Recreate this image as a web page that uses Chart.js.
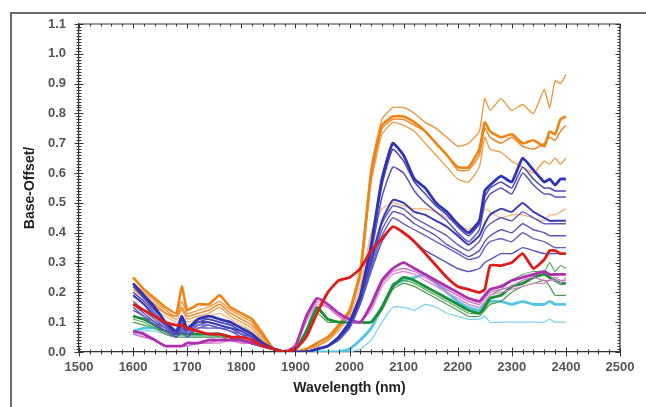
<!DOCTYPE html>
<html>
<head>
<meta charset="utf-8">
<script src="https://cdn.jsdelivr.net/npm/chart.js@4.4.0/dist/chart.umd.min.js"></script>
<style>
  html, body { margin: 0; padding: 0; background: #fff; }
  #wrap { width: 646px; height: 407px; }
</style>
</head>
<body>
<div id="wrap"><canvas id="myChart" width="646" height="407"></canvas></div>
<script>
// wavelengths (nm) shared by every spectrum
const wavelengths = [1600, 1620, 1640, 1660, 1680, 1690, 1700, 1720, 1740, 1760, 1780, 1800, 1820, 1840, 1860,
  1880, 1900, 1920, 1940, 1960, 1980, 2000, 2020, 2040, 2060, 2080, 2100, 2120, 2140, 2160, 2180, 2200,
  2220, 2240, 2250, 2260, 2280, 2300, 2320, 2340, 2360, 2370, 2380, 2390, 2400];

const xTicks = [1500, 1600, 1700, 1800, 1900, 2000, 2100, 2200, 2300, 2400, 2500];
const yTicks = [0.0, 0.1, 0.2, 0.3, 0.4, 0.5, 0.6, 0.7, 0.8, 0.9, 1.0, 1.1];

// orange spectra
const orange1 = [.23,.20,.17,.14,.12,.17,.13,.14,.15,.17,.14,.12,.10,.05,.01,0,0,.01,.03,.05,.09,.14,.28,.62,.78,
  .82,.82,.80,.77,.75,.72,.69,.70,.74,.85,.81,.85,.81,.83,.80,.88,.82,.91,.90,.93];
const orange2 = [.25,.21,.18,.15,.13,.22,.14,.16,.16,.19,.15,.13,.11,.06,.01,0,0,.01,.03,.05,.09,.14,.27,.60,.76,
  .79,.79,.77,.74,.70,.66,.62,.62,.68,.77,.74,.72,.73,.70,.71,.69,.74,.73,.78,.79];
const orange3 = [.22,.19,.16,.13,.12,.15,.12,.13,.14,.16,.13,.11,.09,.05,.01,0,0,.01,.02,.04,.08,.13,.26,.59,.75,
  .78,.78,.76,.74,.70,.66,.61,.61,.66,.75,.72,.70,.72,.69,.68,.70,.72,.71,.74,.76];
const orange4 = [.21,.18,.15,.13,.11,.14,.11,.12,.13,.15,.12,.10,.08,.04,.01,0,0,.01,.02,.04,.08,.13,.25,.57,.73,
  .77,.76,.74,.70,.66,.62,.58,.57,.62,.72,.68,.67,.64,.62,.60,.64,.63,.65,.63,.65];
const orange5 = [.20,.17,.14,.12,.10,.12,.10,.11,.12,.13,.11,.09,.07,.04,.01,0,0,.01,.02,.04,.07,.12,.22,.40,.48,
  .50,.49,.48,.48,.47,.45,.43,.41,.44,.48,.47,.45,.46,.46,.45,.44,.46,.46,.47,.48];

// blue spectra
const blue1 = [.23,.19,.15,.10,.07,.12,.08,.11,.12,.11,.10,.08,.06,.03,.01,0,0,0,.01,.02,.05,.10,.19,.36,.58,
  .70,.66,.58,.55,.50,.47,.43,.40,.44,.54,.56,.59,.57,.65,.61,.57,.58,.56,.58,.58];
const blue2 = [.22,.18,.14,.10,.06,.11,.07,.11,.11,.10,.09,.07,.05,.03,.01,0,0,0,.01,.02,.05,.10,.19,.35,.56,
  .68,.64,.57,.53,.49,.46,.42,.39,.43,.52,.55,.57,.55,.62,.58,.55,.55,.54,.54,.54];
const blue3 = [.20,.17,.13,.09,.06,.10,.07,.10,.11,.10,.09,.07,.05,.03,.01,0,0,0,.01,.02,.05,.10,.18,.33,.52,
  .62,.60,.54,.50,.47,.44,.40,.37,.41,.50,.53,.55,.53,.60,.56,.53,.53,.52,.52,.52];
const blue4 = [.19,.16,.12,.09,.06,.09,.07,.10,.10,.09,.08,.07,.05,.03,.01,0,0,0,.01,.02,.05,.09,.18,.31,.44,
  .51,.50,.47,.46,.44,.42,.39,.36,.39,.43,.46,.48,.47,.50,.47,.45,.44,.44,.44,.44];
const blue5 = [.17,.14,.11,.08,.06,.09,.06,.09,.10,.09,.08,.06,.05,.02,.01,0,0,0,.01,.02,.04,.09,.18,.30,.43,
  .49,.48,.45,.43,.41,.39,.36,.34,.37,.41,.43,.45,.44,.47,.45,.43,.43,.43,.43,.43];
const blue6 = [.16,.13,.10,.08,.05,.08,.06,.09,.09,.08,.08,.06,.04,.02,.01,0,0,0,.01,.02,.04,.09,.17,.29,.41,
  .47,.46,.43,.41,.39,.36,.34,.32,.34,.37,.39,.41,.40,.43,.41,.40,.39,.39,.39,.39];
const blue7 = [.15,.12,.10,.07,.05,.08,.06,.08,.09,.08,.07,.06,.04,.02,.01,0,0,0,.01,.02,.04,.08,.17,.28,.39,
  .45,.43,.41,.39,.37,.35,.33,.31,.32,.35,.37,.38,.37,.40,.38,.37,.36,.35,.35,.35];
const blue8 = [.14,.12,.09,.07,.05,.07,.05,.08,.08,.08,.07,.05,.04,.02,.01,0,0,0,.01,.02,.04,.08,.16,.27,.37,
  .42,.40,.37,.34,.32,.30,.28,.27,.28,.30,.31,.33,.33,.35,.34,.33,.33,.33,.33,.33];

// red spectrum
const red1 = [.16,.14,.12,.10,.09,.09,.08,.07,.06,.06,.05,.05,.04,.02,.01,0,.01,.05,.13,.20,.24,.25,.28,.34,.38,
  .42,.40,.37,.33,.29,.25,.22,.21,.20,.21,.29,.29,.30,.33,.28,.31,.34,.34,.33,.33];

// magenta / pink spectra
const magenta1 = [.07,.06,.04,.02,.02,.02,.03,.03,.04,.04,.04,.04,.03,.02,.01,0,.02,.12,.18,.16,.13,.11,.10,.16,.24,
  .28,.30,.28,.26,.24,.22,.20,.18,.17,.19,.21,.22,.24,.25,.26,.27,.26,.26,.26,.26];
const magenta2 = [.06,.05,.04,.02,.02,.02,.02,.03,.03,.04,.04,.03,.03,.02,.01,0,.02,.11,.17,.15,.12,.10,.10,.15,.23,
  .27,.28,.27,.25,.23,.21,.19,.17,.16,.18,.20,.21,.22,.24,.25,.24,.24,.25,.24,.24];
const magenta3 = [.06,.05,.04,.02,.02,.02,.02,.03,.03,.03,.04,.03,.03,.02,.01,0,.02,.10,.16,.15,.12,.10,.10,.14,.22,
  .26,.27,.26,.24,.22,.20,.18,.16,.15,.17,.19,.20,.21,.22,.23,.23,.24,.24,.23,.25];

// green spectra
const green1 = [.12,.11,.09,.07,.06,.06,.06,.06,.06,.06,.05,.04,.03,.02,.01,0,.01,.07,.15,.11,.10,.10,.10,.10,.15,
  .22,.25,.24,.22,.20,.18,.16,.14,.13,.15,.18,.19,.22,.23,.25,.26,.25,.24,.23,.23];
const green2 = [.11,.10,.08,.07,.06,.06,.06,.06,.06,.05,.05,.04,.03,.02,.01,0,.01,.06,.14,.11,.10,.10,.10,.10,.14,
  .23,.24,.23,.21,.19,.17,.15,.13,.13,.16,.19,.21,.24,.26,.27,.27,.30,.27,.29,.28];
const green3 = [.10,.09,.08,.06,.05,.05,.05,.05,.05,.05,.04,.04,.03,.02,.01,0,.01,.06,.13,.10,.10,.10,.10,.10,.14,
  .21,.23,.22,.20,.18,.16,.14,.12,.12,.14,.16,.17,.20,.22,.23,.24,.22,.19,.19,.19];

// cyan spectra
const cyan1 = [.07,.08,.08,.07,.06,.07,.06,.06,.06,.06,.05,.04,.03,.02,.01,0,0,0,0,0,0,.01,.04,.08,.15,
  .22,.24,.25,.26,.23,.20,.17,.15,.14,.16,.17,.17,.16,.17,.16,.16,.17,.16,.16,.16];
const cyan2 = [.06,.07,.07,.06,.05,.06,.05,.05,.05,.05,.05,.04,.03,.02,.01,0,0,0,0,0,0,0,.01,.04,.10,
  .15,.15,.14,.16,.15,.13,.12,.11,.11,.12,.10,.10,.10,.10,.10,.10,.11,.10,.10,.10];

// first entry is drawn on top
const series = [
  { label: 'red 1', data: red1, color: '#e01b1b', width: 2.8 },
  { label: 'blue 1', data: blue1, color: '#2f33b5', width: 2.8 },
  { label: 'blue 2', data: blue2, color: '#4a45b8', width: 1.5 },
  { label: 'blue 3', data: blue3, color: '#5a52bd', width: 1.5 },
  { label: 'blue 4', data: blue4, color: '#3b3cb6', width: 2 },
  { label: 'blue 5', data: blue5, color: '#6259c0', width: 1.4 },
  { label: 'blue 6', data: blue6, color: '#5d55be', width: 1.4 },
  { label: 'blue 7', data: blue7, color: '#6a60c2', width: 1.4 },
  { label: 'blue 8', data: blue8, color: '#5a52bd', width: 1.4 },
  { label: 'magenta 1', data: magenta1, color: '#b02fae', width: 2.8 },
  { label: 'magenta 2', data: magenta2, color: '#cf6fc8', width: 1.3 },
  { label: 'magenta 3', data: magenta3, color: '#d98ad2', width: 1.3 },
  { label: 'green 1', data: green1, color: '#1b8f3a', width: 2.8 },
  { label: 'green 2', data: green2, color: '#5aa856', width: 1.2 },
  { label: 'green 3', data: green3, color: '#4c9c4c', width: 1.2 },
  { label: 'orange 2', data: orange2, color: '#ef8414', width: 2.6 },
  { label: 'orange 1', data: orange1, color: '#f0923a', width: 1.3 },
  { label: 'orange 3', data: orange3, color: '#ee8a2a', width: 1.5 },
  { label: 'orange 4', data: orange4, color: '#f29a45', width: 1.3 },
  { label: 'orange 5', data: orange5, color: '#f5b070', width: 1.2 },
  { label: 'cyan 1', data: cyan1, color: '#52c6e2', width: 2.8 },
  { label: 'cyan 2', data: cyan2, color: '#7fd4ea', width: 1.3 }
];

// outer frame of the figure
const frame = {
  id: 'frame',
  beforeDraw(chart) {
    const ctx = chart.ctx;
    ctx.save();
    ctx.fillStyle = '#fff';
    ctx.fillRect(0, 0, chart.width, chart.height);
    ctx.strokeStyle = '#6a6a6a';
    ctx.lineWidth = 2;
    ctx.beginPath();
    ctx.moveTo(11, chart.height);
    ctx.lineTo(11, 13);
    ctx.lineTo(chart.width, 13);
    ctx.stroke();
    ctx.restore();
  }
};

// crossing major/minor ticks and the mirrored top/right axes
const tickMarks = {
  id: 'tickMarks',
  afterDraw(chart) {
    const { ctx, chartArea: a, scales: { x, y } } = chart;
    ctx.save();
    ctx.strokeStyle = '#333';
    ctx.lineWidth = 1.2;
    ctx.beginPath();
    ctx.moveTo(a.left, a.top);
    ctx.lineTo(a.right, a.top);
    ctx.lineTo(a.right, a.bottom);
    ctx.stroke();
    ctx.lineWidth = 1;
    ctx.beginPath();
    for (let i = 0; i <= 50; i++) {
      const px = Math.round(x.getPixelForValue(1500 + i * 20)) + 0.5;
      const len = i % 5 === 0 ? 4.5 : 2.5;
      ctx.moveTo(px, a.bottom - len);
      ctx.lineTo(px, a.bottom + len);
      ctx.moveTo(px, a.top);
      ctx.lineTo(px, a.top + len);
    }
    for (let i = 0; i <= 110; i++) {
      const py = Math.round(y.getPixelForValue(i / 100)) + 0.5;
      const len = i % 10 === 0 ? 4.5 : 2.5;
      ctx.moveTo(a.left - len, py);
      ctx.lineTo(a.left + len, py);
      ctx.moveTo(a.right - len, py);
      ctx.lineTo(a.right, py);
    }
    ctx.stroke();
    ctx.restore();
  }
};

Chart.defaults.font.family = '"Liberation Sans", Arial, sans-serif';

const ctx = document.getElementById('myChart');
new Chart(ctx, {
  type: 'line',
  data: {
    datasets: series.map(s => ({
      label: s.label,
      data: wavelengths.map((w, i) => ({ x: w, y: s.data[i] })),
      borderColor: s.color,
      borderWidth: s.width,
      pointRadius: 0,
      tension: 0.15,
      fill: false
    }))
  },
  options: {
    responsive: false,
    animation: false,
    devicePixelRatio: 1,
    layout: { padding: { left: 14, right: 26, top: 24, bottom: 10 } },
    plugins: { legend: { display: false }, tooltip: { enabled: false } },
    scales: {
      x: {
        type: 'linear',
        min: 1500,
        max: 2500,
        afterFit: scale => { scale.height = 45; },
        afterBuildTicks: scale => { scale.ticks = xTicks.map(v => ({ value: v })); },
        ticks: { font: { size: 13, weight: 'bold' }, color: '#555', padding: 8, maxRotation: 0, callback: v => String(v) },
        grid: { display: true, drawOnChartArea: false, drawTicks: false },
        border: { display: true, color: '#333', width: 1.2 },
        title: { display: true, text: 'Wavelength (nm)', font: { size: 14, weight: 'bold' }, color: '#222', padding: 0 }
      },
      y: {
        min: 0,
        max: 1.1,
        afterFit: scale => { scale.width = 65; },
        afterBuildTicks: scale => { scale.ticks = yTicks.map(v => ({ value: v })); },
        ticks: { font: { size: 13, weight: 'bold' }, color: '#555', padding: 13, callback: v => v.toFixed(1) },
        grid: { display: true, drawOnChartArea: false, drawTicks: false },
        border: { display: true, color: '#333', width: 1.2 },
        title: { display: true, text: 'Base-Offset/', font: { size: 14, weight: 'bold' }, color: '#222', padding: { top: 8, bottom: 0 } }
      }
    }
  },
  plugins: [frame, tickMarks]
});
</script>
</body>
</html>
